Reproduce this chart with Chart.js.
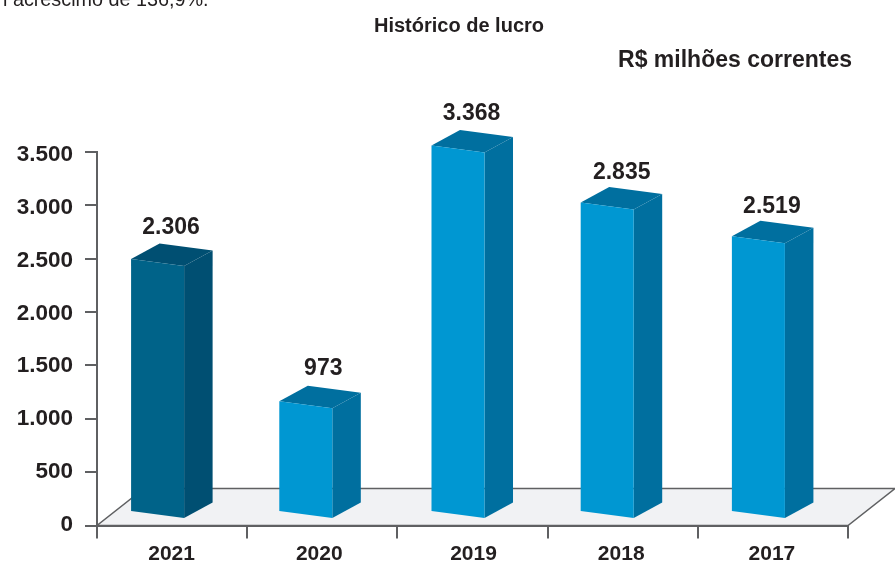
<!DOCTYPE html>
<html lang="pt-BR">
<head>
<meta charset="utf-8">
<title>Histórico de lucro</title>
<script src="https://cdn.jsdelivr.net/npm/chart.js@4"></script>
<style>html,body{margin:0;padding:0;background:#fff;overflow:hidden}canvas{display:block}</style>
</head>
<body>
<canvas id="c" width="895" height="565"></canvas>
<script>
const categories = ['2021', '2020', '2019', '2018', '2017'];
const lucro = [2306, 973, 3368, 2835, 2519];
const yTickStep = 500;
const yMax = 3500;
const titleText = 'Histórico de lucro';
const unitText = 'R$ milhões correntes';
const clippedText = 'l acréscimo de 136,9%.';

const FONT = '"Liberation Sans", Arial, sans-serif';
const INK = '#231f20';
const AXIS = '#5f6062';
const FLOOR = '#f1f2f4';
const PALETTE = {
  dark: { front: '#006389', side: '#004f72', top: '#004f72' },
  light: { front: '#0097d2', side: '#006f9f', top: '#006f9f' }
};
const faces = i => i === 0 ? PALETTE.dark : PALETTE.light;
const fmt = v => String(v).replace(/\B(?=(\d{3})+$)/g, '.');

const GEO = { shift: -14.5, topLift: 20.5, baseLift: 13.5, skew: 7, depthX: 28.5, depthY: -15.5,
              floorX: 47, floorY: -37 };
const barNudge = [0, -2, 0, -1, 0];
const xLabelNudge = [-0.5, -3, 1, -1.5, -1];
const valueNudgeX = [0, 2, 0, 0, 0];
const valueNudgeY = [0.5, -1, -1, 2, 2];

function poly(ctx, pts, fill) {
  ctx.beginPath();
  pts.forEach((p, i) => i ? ctx.lineTo(p[0], p[1]) : ctx.moveTo(p[0], p[1]));
  ctx.closePath();
  ctx.fillStyle = fill;
  ctx.fill();
}

const scene = {
  id: 'scene',
  beforeDraw(chart) {
    const { ctx, chartArea: a } = chart;
    const y = chart.scales.y, y0 = y.getPixelForValue(0);
    // the printed tick labels sit on a slightly tighter rhythm than their tick marks
    y.getLabelItems().forEach((it, i) => {
      if (!it.nudged) {
        it.options.translation[1] += -1.2 + 4.4 * (y.ticks[i].value / yMax);
        it.nudged = true;
      }
    });
    chart.scales.x.getLabelItems().forEach((it, i) => {
      if (!it.nudged) {
        it.options.translation[0] += xLabelNudge[i];
        it.nudged = true;
      }
    });
    ctx.save();
    ctx.beginPath();
    ctx.moveTo(a.left, y0);
    ctx.lineTo(a.right, y0);
    ctx.lineTo(a.right + GEO.floorX, y0 + GEO.floorY);
    ctx.lineTo(a.left + GEO.floorX, y0 + GEO.floorY);
    ctx.closePath();
    ctx.fillStyle = FLOOR;
    ctx.fill();
    ctx.strokeStyle = AXIS;
    ctx.lineWidth = 1.5;
    ctx.stroke();
    ctx.restore();
  },
  beforeDatasetDraw(chart, args) {
    const { ctx } = chart;
    ctx.save();
    args.meta.data.forEach((bar, i) => {
      const w = bar.width, l = bar.x - w / 2 + GEO.shift + barNudge[i], r = l + w;
      const topL = bar.y - GEO.topLift, topR = topL + GEO.skew;
      const botL = bar.base - GEO.baseLift, botR = botL + GEO.skew;
      const dx = GEO.depthX, dy = GEO.depthY, c = faces(i);
      poly(ctx, [[r, topR], [r + dx, topR + dy], [r + dx, botR + dy], [r, botR]], c.side);
      poly(ctx, [[l, topL], [l + dx, topL + dy], [r + dx, topR + dy], [r, topR]], c.top);
      poly(ctx, [[l, topL], [r, topR], [r, botR], [l, botL]], c.front);
      ctx.fillStyle = INK;
      ctx.font = 'bold 23px ' + FONT;
      ctx.textAlign = 'center';
      ctx.textBaseline = 'alphabetic';
      ctx.fillText(fmt(lucro[i]), bar.x - 1 + valueNudgeX[i], topL - 25 + valueNudgeY[i]);
    });
    ctx.restore();
    return false;
  },
  afterDraw(chart) {
    const { ctx } = chart;
    ctx.save();
    ctx.fillStyle = INK;
    ctx.textBaseline = 'alphabetic';
    ctx.textAlign = 'center';
    ctx.font = 'bold 20px ' + FONT;
    ctx.fillText(titleText, 459, 32);
    ctx.textAlign = 'right';
    ctx.font = 'bold 23px ' + FONT;
    ctx.fillText(unitText, 852, 67);
    ctx.textAlign = 'left';
    ctx.font = '19.8px ' + FONT;
    ctx.fillText(clippedText, 3, 6);
    ctx.restore();
  }
};

new Chart(document.getElementById('c'), {
  type: 'bar',
  data: {
    labels: categories,
    datasets: [{
      label: 'Lucro',
      data: lucro,
      backgroundColor: categories.map((_, i) => faces(i).front),
      barPercentage: 0.353,
      categoryPercentage: 1
    }]
  },
  options: {
    responsive: false,
    animation: false,
    layout: { padding: { left: 0, top: 152, right: 47, bottom: 0 } },
    plugins: { legend: { display: false }, tooltip: { enabled: false }, title: { display: false } },
    scales: {
      x: {
        afterFit: s => { s.height = 39.5; },
        border: { color: AXIS, width: 2 },
        grid: { color: AXIS, lineWidth: 2, drawOnChartArea: false, tickLength: 13 },
        ticks: { color: INK, padding: 3, maxRotation: 0, font: { family: FONT, size: 21, weight: 'bold' } }
      },
      y: {
        min: 0,
        max: yMax,
        afterFit: s => { s.width = 97; },
        border: { color: AXIS, width: 2 },
        grid: { color: AXIS, lineWidth: 2, drawOnChartArea: false, tickLength: 12 },
        ticks: { color: INK, stepSize: yTickStep, padding: 12, callback: v => fmt(v),
                 font: { family: FONT, size: 22.5, weight: 'bold' } }
      }
    }
  },
  plugins: [scene]
});
</script>
</body>
</html>
